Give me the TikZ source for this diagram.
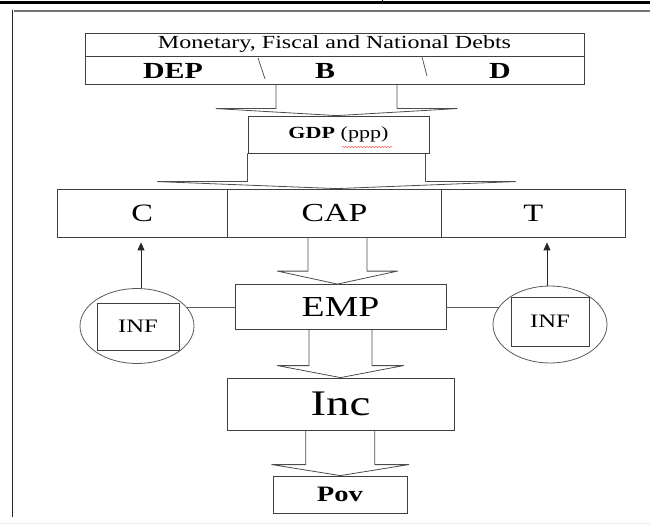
\documentclass[tikz,border=0pt]{standalone}
\usepackage{fontspec}
\setmainfont{Liberation Serif}[FakeStretch=1.3]
\usepackage{tikz}
\usetikzlibrary{shapes.geometric,arrows.meta,calc,decorations.pathmorphing}

\newcommand{\fs}[1]{\fontsize{#1}{#1}\selectfont}
\newcommand{\fatarrow}[5]{%
\draw[fat] let \p1=(#1.south), \p2=(#2.north), \n1={0.5*\x1+0.5*\x2} in
 (\n1-#3,\y1) -- (\n1-#3,\y2+#5) -- (\n1-#4,\y2+#5) -- (\n1,\y2)
 -- (\n1+#4,\y2+#5) -- (\n1+#3,\y2+#5) -- (\n1+#3,\y1);}

\begin{document}
\begin{tikzpicture}[x=1pt, y=-1pt,
 cell/.style={draw=black!75, line width=0.8pt, inner sep=0pt},
 ring/.style={ellipse, draw=black!65, line width=0.8pt, inner sep=0pt},
 fat/.style={draw=black!70, line width=0.8pt, line join=round},
 up/.style={black!85, line width=0.9pt, -{Triangle[length=8pt,width=7pt]}, shorten >=5pt},
 link/.style={black!65, line width=0.8pt}]
\useasboundingbox (0,0) rectangle (650,529);
\draw[line width=3pt] (0,3) -- (650,3);
\draw[line width=1pt] (382,0) -- (382,4);
\draw[black!55, line width=1.5pt] (14,11) -- (650,11);
\draw[black!85, line width=1pt] (12,10) -- (12,517);
\draw[black!8, line width=1pt] (0,523) -- (650,523);

\node[cell, minimum width=499pt, minimum height=23pt] (debts) at (334.5,44.5) {\fs{18.5}Monetary, Fiscal and National Debts};
\node[cell, minimum width=499pt, minimum height=28pt] (tools) at (334.5,70) {};
\node (dep) at (173,71) {\fs{23}\bfseries DEP};
\node (b) at (325,71) {\fs{23}\bfseries B};
\node (d) at (500,71) {\fs{23}\bfseries D};
\draw[link] (258,58) -- (265,79);
\draw[link] (422,57) -- (427,76);

\node[cell, minimum width=181pt, minimum height=37pt] (gdp) at (338.5,134.5) {\fs{17}\textbf{GDP} (ppp)};
\draw[red!70, line width=0.5pt, decorate, decoration={snake, amplitude=0.6pt, segment length=3pt}] (342,147) -- (392,147);

\node[cell, minimum width=170.5pt, minimum height=48pt] (c) at (142.25,213) {\fs{25}C};
\node[cell, minimum width=214pt, minimum height=48pt] (cap) at (334.5,213) {\fs{26}CAP};
\node[cell, minimum width=183.5pt, minimum height=48pt] (t) at (533.25,213) {\fs{25}T};

\node[cell, minimum width=211pt, minimum height=45pt] (emp) at (340.5,307) {\fs{29}EMP};
\node[ring, minimum width=114pt, minimum height=75pt] (ringL) at (137,326) {};
\node[cell, minimum width=82pt, minimum height=47pt] (infL) at (138,326.5) {\fs{19}INF};
\node[ring, minimum width=114pt, minimum height=77pt] (ringR) at (550,324.5) {};
\node[cell, minimum width=78pt, minimum height=49pt] (infR) at (550,321.5) {\fs{19}INF};

\node[cell, minimum width=227pt, minimum height=52pt] (inc) at (340.5,404) {\fs{36}Inc};
\node[cell, minimum width=134pt, minimum height=37pt] (pov) at (340,494.5) {\fs{22}\bfseries Pov};

\fatarrow{tools}{gdp}{60.5pt}{120.5pt}{7pt}
\fatarrow{gdp}{cap}{89pt}{179pt}{7pt}
\fatarrow{cap}{emp}{29.5pt}{60pt}{13pt}
\fatarrow{emp}{inc}{31.5pt}{63pt}{12pt}
\fatarrow{inc}{pov}{34.5pt}{68.5pt}{11pt}

\draw[up] ([xshift=4pt]ringL.north) -- ([xshift=4pt]ringL.north |- c.south);
\draw[up] ([xshift=-3pt]ringR.north) -- ([xshift=-3pt]ringR.north |- t.south);
\draw[link] (emp.west) -- (ringL.20 |- emp.west);
\draw[link] (emp.east) -- (ringR.160 |- emp.east);
\end{tikzpicture}
\end{document}
